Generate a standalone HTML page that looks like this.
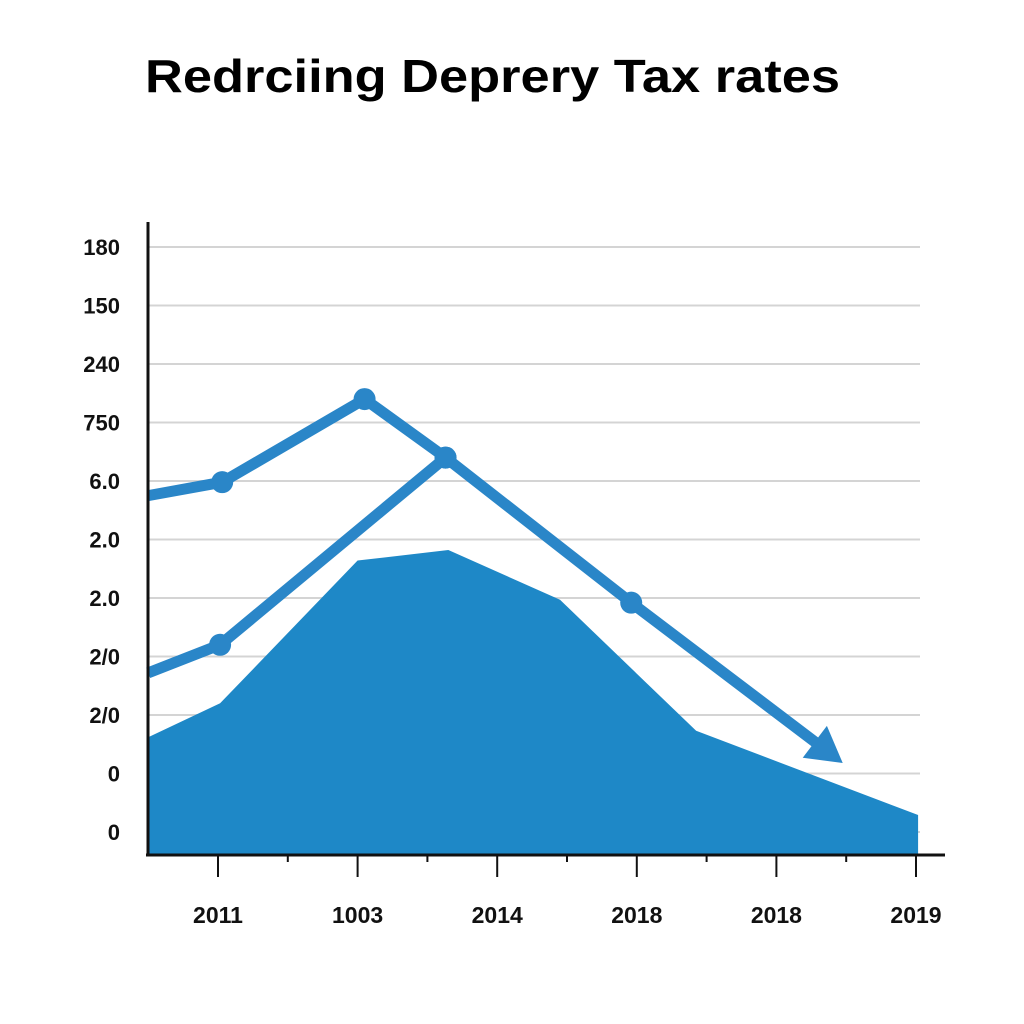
<!DOCTYPE html>
<html><head><meta charset="utf-8"><style>
html,body{margin:0;padding:0;background:#fff;width:1024px;height:1024px;overflow:hidden}
text{font-family:"Liberation Sans",Arial,sans-serif}
</style></head><body>
<svg id="chart" width="1024" height="1024" viewBox="0 0 1024 1024" xmlns="http://www.w3.org/2000/svg">
<text x="145" y="92" font-size="46" font-weight="bold" fill="#000" textLength="695" lengthAdjust="spacingAndGlyphs">Redrciing Deprery Tax rates</text>
<g id="grid"></g>
<g id="area"></g>
<g id="lines"></g>
<g id="axes"></g>
</svg>
<script>
const yTickLabels = ["0","0","2/0","2/0","2.0","2.0","6.0","750","240","150","180"];
const xTickLabels = ["2011","1003","2014","2018","2018","2019"];
const xLabelPos = [0,2,4,6,8,10];
const areaX = [-1,0.03,2,3.3,4.9,6.85,10.03];
const areaY = [1.62,2.2,4.64,4.82,3.97,1.73,0.29];
const line1X = [-1,0.06,2.1,3.26,5.92,8.95];
const line1Y = [5.75,5.98,7.4,6.4,3.92,1.18];
const line1Markers = [1,2,3,4];
const line2X = [-1,0.03,3.26];
const line2Y = [2.72,3.2,6.4];
const line2Markers = [1,2];

const NS="http://www.w3.org/2000/svg";
const xs=i=>218+69.8*i;
const ys=v=>832-v*58.5;
const BASE=855;
function mk(tag,attrs,parent){const e=document.createElementNS(NS,tag);for(const k in attrs)e.setAttribute(k,attrs[k]);document.getElementById(parent).appendChild(e);return e;}

yTickLabels.forEach((l,i)=>{
  const g=mk('line',{x1:148,x2:920,y1:ys(i),y2:ys(i),stroke:'#d4d4d4','stroke-width':2},'grid');
  
  
  const t=mk('text',{x:120,y:ys(i)+8,'text-anchor':'end','font-size':22,'font-weight':'bold',fill:'#111'},'grid');
  t.textContent=l;
  
  
});

let d='M'+xs(areaX[0])+','+BASE;
areaX.forEach((x,i)=>{d+=' L'+xs(x)+','+ys(areaY[i]);});
d+=' L'+xs(areaX[areaX.length-1])+','+BASE+' Z';
const ar=mk('path',{d:d,fill:'#1e88c7'},'area');



function drawLine(X,Y,markers,name,arrow){
  let p='';
  const n=X.length;
  let ex=xs(X[n-1]),ey=ys(Y[n-1]);
  let endX=ex,endY=ey;
  if(arrow){const px=xs(X[n-2]),py=ys(Y[n-2]);const dx=ex-px,dy=ey-py,L=Math.hypot(dx,dy);endX=ex-dx/L*25;endY=ey-dy/L*25;}
  X.forEach((x,i)=>{const xx=(i===n-1)?endX:xs(x),yy=(i===n-1)?endY:ys(Y[i]);p+=(i?' L':'M')+xx+','+yy;});
  const l=mk('path',{d:p,fill:'none',stroke:'#2a86c8','stroke-width':11,'stroke-linejoin':'round'},'lines');
  
  
  if(arrow){
    const px=xs(X[n-2]),py=ys(Y[n-2]);const dx=ex-px,dy=ey-py,L=Math.hypot(dx,dy);const ux=dx/L,uy=dy/L;
    const bx=ex-ux*35,by=ey-uy*35;
    const a=mk('polygon',{points:`${ex},${ey} ${bx-uy*20},${by+ux*20} ${bx+uy*20},${by-ux*20}`,fill:'#2a86c8'},'lines');
    
    
  }
  markers.forEach(i=>{
    const c=mk('circle',{cx:xs(X[i]),cy:ys(Y[i]),r:11,fill:'#2a86c8'},'lines');
    
    
  });
}
drawLine(line2X,line2Y,line2Markers,'line-series-2',false);
drawLine(line1X,line1Y,line1Markers,'line-series-1',true);

const ya=mk('line',{x1:148,x2:148,y1:222,y2:BASE,stroke:'#111','stroke-width':3},'axes');


const xa=mk('line',{x1:146,x2:945,y1:BASE,y2:BASE,stroke:'#111','stroke-width':3},'axes');


for(let i=0;i<=10;i++){
  const t=mk('line',{x1:xs(i),x2:xs(i),y1:BASE,y2:BASE+(i%2?7:22),stroke:'#111','stroke-width':2},'axes');
  
  
}
xTickLabels.forEach((l,i)=>{
  const t=mk('text',{x:xs(xLabelPos[i]),y:923,'text-anchor':'middle','font-size':23,'font-weight':'bold',fill:'#111'},'axes');
  t.textContent=l;
  
  
});
</script>
</body></html>
